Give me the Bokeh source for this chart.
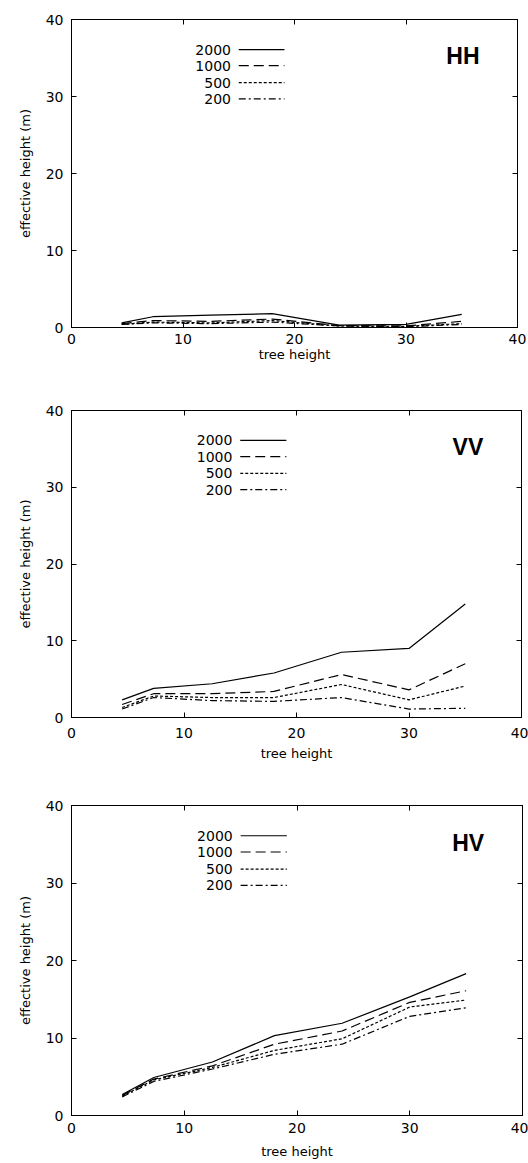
from bokeh.plotting import figure
from bokeh.layouts import column
from bokeh.models import Range1d, FixedTicker, LinearAxis, ColumnDataSource, Label
from bokeh.core.properties import value
from bokeh.embed import file_html
from bokeh.resources import INLINE

# ---- data ----
tree_height = [4.5, 7.3, 12.5, 18, 24, 30, 35]
series_names = ["2000", "1000", "500", "200"]

hh_2000 = [0.6, 1.4, 1.6, 1.8, 0.3, 0.4, 1.7]
hh_1000 = [0.5, 0.9, 0.8, 1.1, 0.25, 0.2, 0.8]
hh_500 = [0.4, 0.7, 0.6, 0.9, 0.2, 0.15, 0.5]
hh_200 = [0.4, 0.6, 0.5, 0.7, 0.2, 0.1, 0.4]

vv_2000 = [2.3, 3.8, 4.4, 5.8, 8.5, 9.0, 14.8]
vv_1000 = [1.7, 3.1, 3.1, 3.4, 5.6, 3.6, 7.0]
vv_500 = [1.3, 2.8, 2.6, 2.6, 4.3, 2.3, 4.1]
vv_200 = [1.1, 2.6, 2.2, 2.1, 2.6, 1.1, 1.2]

hv_2000 = [2.7, 4.9, 6.9, 10.3, 11.9, 15.3, 18.3]
hv_1000 = [2.6, 4.7, 6.4, 9.2, 10.9, 14.6, 16.1]
hv_500 = [2.5, 4.6, 6.2, 8.4, 9.9, 14.0, 14.9]
hv_200 = [2.4, 4.4, 6.0, 7.9, 9.2, 12.8, 13.9]

axis_ticks = [0, 10, 20, 30, 40]
panel_titles = ["HH", "VV", "HV"]

# ---- styles ----
DASHES = ["solid", "10 5", "3 2", "7 3 2 3"]
FONT = "DejaVu Sans"
LEGEND_Y = [36.1, 34.0, 31.8, 29.7]
LEGEND_TEXT_X = 14.3
LEGEND_LINE_X = (15.0, 19.1)


def make_panel(title, series, left, frame_w, right, top, frame_h, bottom,
               xtick_standoff, xlabel_standoff):
    p = figure(frame_width=frame_w, frame_height=frame_h,
               min_border_left=left, min_border_right=right,
               min_border_top=top, min_border_bottom=bottom,
               x_range=Range1d(0, 40), y_range=Range1d(0, 40),
               output_backend="svg", toolbar_location=None,
               background_fill_color="white", border_fill_color="white")
    p.grid.visible = False
    p.outline_line_color = "black"
    p.outline_line_width = 1

    for ax in (p.xaxis[0], p.yaxis[0]):
        ax.ticker = FixedTicker(ticks=axis_ticks)
        ax.major_tick_in = 5
        ax.major_tick_out = 0
        ax.minor_tick_in = 0
        ax.minor_tick_out = 0
        ax.axis_line_color = "black"
        ax.major_tick_line_color = "black"
        ax.major_label_text_font = FONT
        ax.major_label_text_font_size = "14px"
        ax.major_label_text_color = "black"
        ax.axis_label_text_font = FONT
        ax.axis_label_text_font_size = "13px"
        ax.axis_label_text_font_style = "normal"
        ax.axis_label_text_color = "black"
    p.xaxis[0].axis_label = "tree height"
    p.xaxis[0].major_label_standoff = xtick_standoff
    p.xaxis[0].axis_label_standoff = xlabel_standoff
    p.yaxis[0].axis_label = "effective height (m)"
    p.yaxis[0].major_label_standoff = 8
    p.yaxis[0].axis_label_standoff = 10

    for loc in ("above", "right"):
        ax = LinearAxis(ticker=FixedTicker(ticks=axis_ticks),
                        major_tick_in=5, major_tick_out=0,
                        minor_tick_in=0, minor_tick_out=0,
                        major_label_text_font_size="0px",
                        major_label_text_alpha=0,
                        major_label_standoff=0,
                        axis_line_color="black")
        p.add_layout(ax, loc)

    for name, ys, dash in zip(series_names, series, DASHES):
        p.line(tree_height, ys, line_color="black", line_width=1.2, line_dash=dash)

    # legend (gnuplot style: label then sample)
    src = ColumnDataSource(dict(x=[LEGEND_TEXT_X] * len(series_names), y=LEGEND_Y, t=series_names))
    p.text(x="x", y="y", text="t", source=src, text_align="right", text_baseline="middle",
           text_font=value(FONT), text_font_size="14px", text_color="black")
    for yy, dash in zip(LEGEND_Y, DASHES):
        p.line(list(LEGEND_LINE_X), [yy, yy], line_color="black", line_width=1.2, line_dash=dash)

    p.add_layout(Label(x=36.6, y=35.2, text=title, text_align="right", text_baseline="middle",
                       text_font="Liberation Sans", text_font_style="bold",
                       text_font_size="23px", text_color="black"))
    return p


p1 = make_panel(panel_titles[0], [hh_2000, hh_1000, hh_500, hh_200], 71, 446, 11, 19, 308, 63, 6, 0)
p2 = make_panel(panel_titles[1], [vv_2000, vv_1000, vv_500, vv_200], 68, 450, 10, 20, 307, 68, 10, 5)
p3 = make_panel(panel_titles[2], [hv_2000, hv_1000, hv_500, hv_200], 65, 451, 12, 20, 310, 48, 7, 8)

layout = column(p1, p2, p3, spacing=0)
open("out.html", "w").write(file_html(layout, INLINE))
